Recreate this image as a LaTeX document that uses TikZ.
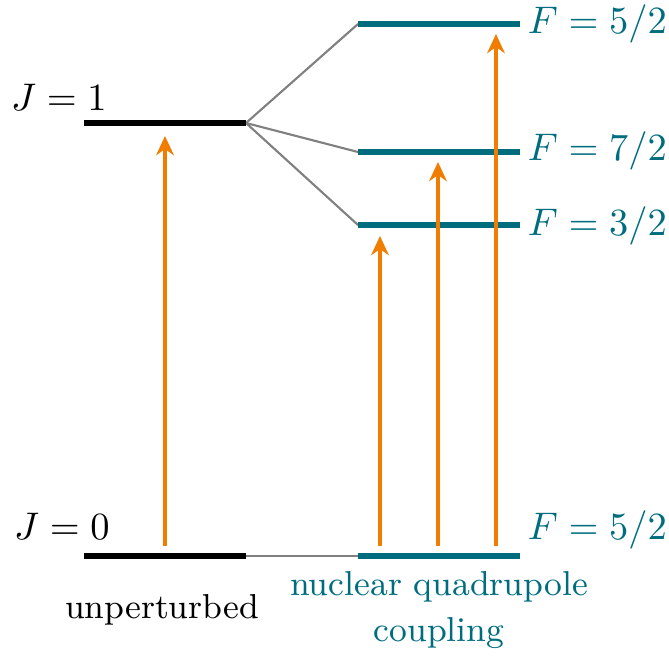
\documentclass[tikz,border=0pt]{standalone}
\usetikzlibrary{arrows.meta}
\definecolor{teal2}{RGB}{0,109,127}
\definecolor{orng}{RGB}{240,125,0}
\begin{document}
\begin{tikzpicture}[x=0.26pt,y=-0.26pt,
  lvl/.style={line width=1.6pt},
  lvlU/.style={lvl,black},
  lvlF/.style={lvl,teal2},
  link/.style={gray,line width=0.55pt},
  trans/.style={orng,line width=0.95pt,-{Stealth[length=5pt,width=4.6pt]}},
  lab/.style={inner sep=0pt},
  txt/.style={inner sep=0pt,font=\small}]
\useasboundingbox (0,0) rectangle (669,657);
% unperturbed levels
\coordinate (J1a) at (84,123); \coordinate (J1b) at (246,123);
\coordinate (J0a) at (84,556); \coordinate (J0b) at (246,556);
% split levels
\coordinate (F5ta) at (358,24);  \coordinate (F5tb) at (520,24);
\coordinate (F7a) at (358,152);  \coordinate (F7b) at (520,152);
\coordinate (F3a) at (358,225);  \coordinate (F3b) at (520,225);
\coordinate (F5ba) at (358,556); \coordinate (F5bb) at (520,556);
% connectors
\draw[link] (J1b) -- (F5ta);
\draw[link] (J1b) -- (F7a);
\draw[link] (J1b) -- (F3a);
\draw[link] (J0b) -- (F5ba);
% levels
\draw[lvlU] (J1a) -- (J1b);
\draw[lvlU] (J0a) -- (J0b);
\draw[lvlF] (F5ta) -- (F5tb);
\draw[lvlF] (F7a) -- (F7b);
\draw[lvlF] (F3a) -- (F3b);
\draw[lvlF] (F5ba) -- (F5bb);
% transitions
\coordinate (s0) at (165,546); \coordinate (e0) at (165,136);
\coordinate (s1) at (380,546); \coordinate (e1) at (380,236);
\coordinate (s2) at (438,546); \coordinate (e2) at (438,162);
\coordinate (s3) at (496,546); \coordinate (e3) at (496,34);
\draw[trans] (s0) -- (e0);
\draw[trans] (s1) -- (e1);
\draw[trans] (s2) -- (e2);
\draw[trans] (s3) -- (e3);
% labels
\node[lab] (tJ1) at (59,97) {$J=1$};
\node[lab] (tJ0) at (62,526) {$J=0$};
\node[lab,teal2,anchor=west] (tF5t) at (527,24) {$F=5/2$};
\node[lab,teal2,anchor=west] (tF7) at (527,151) {$F=7/2$};
\node[lab,teal2,anchor=west] (tF3) at (527,226) {$F=3/2$};
\node[lab,teal2,anchor=west] (tF5b) at (527,530) {$F=5/2$};
\node[txt] (tU) at (162,610) {unperturbed};
\node[txt,teal2] (tN) at (439,587) {nuclear quadrupole};
\node[txt,teal2] (tC) at (439,633) {coupling};
\end{tikzpicture}
\end{document}
